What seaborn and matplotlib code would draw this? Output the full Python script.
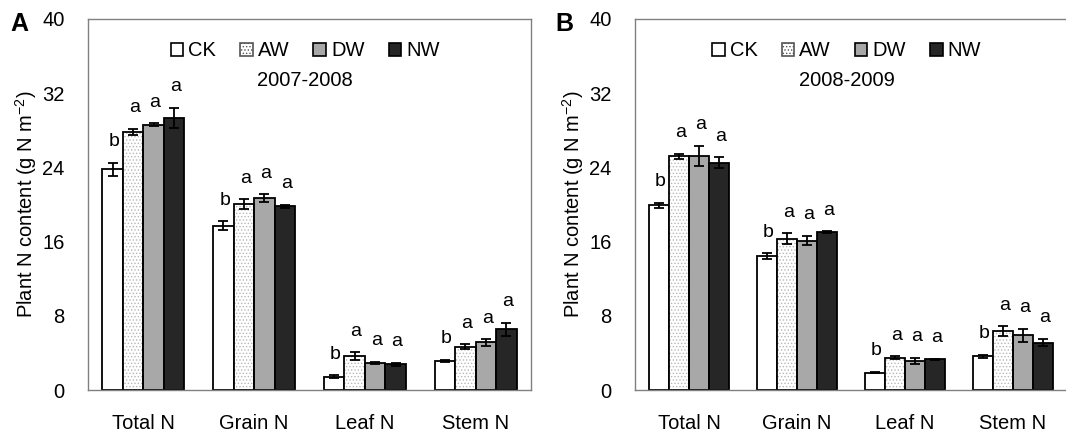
import matplotlib
matplotlib.use("Agg")
import matplotlib.pyplot as plt
import seaborn as sns
import pandas as pd
from matplotlib.patches import Patch, Rectangle

categories = ["Total N", "Grain N", "Leaf N", "Stem N"]
treatments = ["CK", "AW", "DW", "NW"]
yticks = [0, 8, 16, 24, 32, 40]

# 2007-2008 season (panel A)
ck_0708 = [23.8, 17.7, 1.43, 3.12]
aw_0708 = [27.8, 20.05, 3.66, 4.66]
dw_0708 = [28.6, 20.7, 2.9, 5.13]
nw_0708 = [29.3, 19.8, 2.76, 6.56]
ck_0708_se = [0.7, 0.5, 0.15, 0.15]
aw_0708_se = [0.35, 0.5, 0.4, 0.25]
dw_0708_se = [0.15, 0.4, 0.15, 0.35]
nw_0708_se = [1.1, 0.15, 0.15, 0.7]

# 2008-2009 season (panel B)
ck_0809 = [19.9, 14.45, 1.87, 3.62]
aw_0809 = [25.2, 16.3, 3.48, 6.35]
dw_0809 = [25.2, 16.1, 3.12, 5.88]
nw_0809 = [24.5, 17.0, 3.3, 5.1]
ck_0809_se = [0.25, 0.3, 0.06, 0.15]
aw_0809_se = [0.25, 0.6, 0.15, 0.5]
dw_0809_se = [1.1, 0.5, 0.35, 0.75]
nw_0809_se = [0.6, 0.1, 0.03, 0.4]

# significance letters, per treatment
letters_ck = ["b", "b", "b", "b"]
letters_aw = ["a", "a", "a", "a"]
letters_dw = ["a", "a", "a", "a"]
letters_nw = ["a", "a", "a", "a"]

face = {"CK": "white", "AW": "white", "DW": "#a8a8a8", "NW": "#262626"}

FS = 14.5


def make_df(vals):
    rows = []
    for t, v in zip(treatments, vals):
        for c, x in zip(categories, v):
            rows.append({"part": c, "trt": t, "val": x})
    return pd.DataFrame(rows)


def draw_panel(ax, vals, errs, year):
    df = make_df(vals)
    sns.barplot(data=df, x="part", y="val", hue="trt", order=categories,
                hue_order=treatments, palette=face, width=0.74,
                errorbar=None, edgecolor="black", linewidth=1.3,
                saturation=1, legend=False, ax=ax)

    letters = [letters_ck, letters_aw, letters_dw, letters_nw]
    bar_sets = list(ax.containers)
    for k, cont in enumerate(bar_sets):
        t = treatments[k]
        xs = [p.get_x() + p.get_width() / 2 for p in cont.patches]
        if t == "AW":
            for p in cont.patches:
                p.set_facecolor("white")
                p.set_hatch(".....")
                p.set_edgecolor("#b8b8b8")
                p.set_linewidth(0)
                ax.add_patch(Rectangle(p.get_xy(), p.get_width(), p.get_height(),
                                       fill=False, edgecolor="black",
                                       linewidth=1.3, zorder=p.get_zorder() + 0.1))
        ax.errorbar(xs, vals[k], yerr=errs[k], fmt="none", ecolor="black",
                    elinewidth=1.3, capsize=3.8, capthick=1.3, zorder=5)
        for x, v, e, s in zip(xs, vals[k], errs[k], letters[k]):
            ax.annotate(s, (x, v + e), xytext=(1, 12), textcoords="offset points",
                        ha="center", va="baseline", fontsize=FS - 0.5,
                        color="black")

    ax.set_ylim(0, 40)
    ax.set_xlim(-0.5, 3.5)
    ax.set_yticks(yticks)
    ax.set_xticks(range(len(categories)))
    ax.set_xticklabels(categories)
    ax.set_xticks([0.5, 1.5, 2.5], minor=True)
    ax.tick_params(axis="x", which="major", length=0, pad=17, labelsize=FS,
                   labelcolor="black")
    ax.tick_params(axis="x", which="minor", direction="in", length=6,
                   color="#808080", width=1)
    ax.tick_params(axis="y", direction="in", length=6, color="#808080",
                   width=1, pad=17, labelsize=FS, labelcolor="black")
    for s in ax.spines.values():
        s.set_visible(True)
        s.set_color("#808080")
        s.set_linewidth(1)
    ax.set_xlabel("")
    ax.set_ylabel("Plant N content (g N m$^{\\mathregular{-2}}$)", fontsize=FS,
                  labelpad=2, color="black")

    handles = []
    for t in treatments:
        if t == "AW":
            handles.append(Patch(facecolor="white", edgecolor="#555555",
                                 hatch=".....", linewidth=1.2))
        else:
            handles.append(Patch(facecolor=face[t], edgecolor="black", linewidth=1.2))
    leg = ax.legend(handles, treatments, loc="center", bbox_to_anchor=(0.49, 0.914),
                    ncol=4, frameon=False, fontsize=FS, handlelength=0.62,
                    handleheight=0.62, handletextpad=0.25, columnspacing=1.2)
    for txt in leg.get_texts():
        txt.set_color("black")
    ax.text(0.49, 0.833, year, transform=ax.transAxes, ha="center",
            va="center", fontsize=FS, color="black")


sns.set_style("white")
plt.rcParams["font.family"] = ["Liberation Sans", "DejaVu Sans"]
plt.rcParams["hatch.linewidth"] = 0.6
plt.rcParams["text.color"] = "black"

fig = plt.figure(figsize=(10.66, 4.34), dpi=100)
ax1 = fig.add_axes([88 / 1066, 44 / 434, 443 / 1066, 371 / 434])
ax2 = fig.add_axes([635 / 1066, 44 / 434, 432 / 1066, 371 / 434])

draw_panel(ax1, [ck_0708, aw_0708, dw_0708, nw_0708],
           [ck_0708_se, aw_0708_se, dw_0708_se, nw_0708_se], "2007-2008")
draw_panel(ax2, [ck_0809, aw_0809, dw_0809, nw_0809],
           [ck_0809_se, aw_0809_se, dw_0809_se, nw_0809_se], "2008-2009")

fig.text(19 / 1066, 1 - 24 / 434, "A", fontsize=18, fontweight="bold",
         ha="center", va="center", color="black")
fig.text(564 / 1066, 1 - 24 / 434, "B", fontsize=18, fontweight="bold",
         ha="center", va="center", color="black")

fig.savefig("out.png", dpi=100)
